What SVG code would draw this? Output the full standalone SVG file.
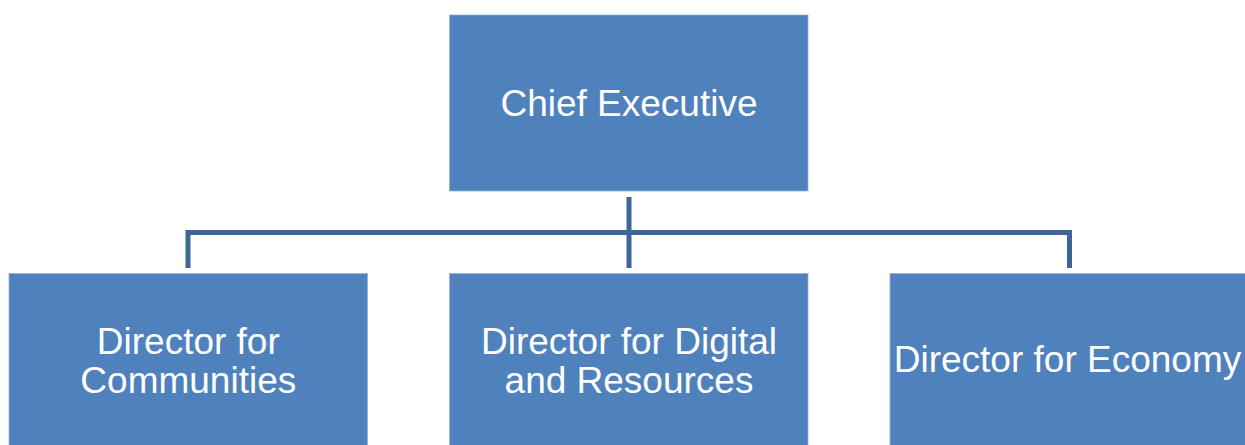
<svg xmlns="http://www.w3.org/2000/svg" width="1245" height="445" viewBox="0 0 1245 445">
  <style>
    .box { fill: #4f81bd; stroke: #94b2d8; stroke-width: 0.8; }
    .label { font-family: "Liberation Sans", Arial, sans-serif; font-size: 37px; fill: #ffffff; text-anchor: middle; }
    .conn { fill: none; stroke: #3d6696; stroke-width: 5; stroke-linejoin: miter; }
  </style>
  <rect width="1245" height="445" fill="#ffffff"/>

  <!-- connectors: trunk from the top box, bus, and drops to each director -->
  <g id="connectors">
    <path class="conn" d="M629 197 V268"/>
    <path class="conn" d="M188 268 V232.5 H1069.5 V268"/>
  </g>

  <g id="chief-executive">
    <rect class="box" x="449.5" y="15" width="358.5" height="176"/>
    <text class="label" x="629" y="115.5">Chief Executive</text>
  </g>

  <g id="director-communities">
    <rect class="box" x="9" y="273.5" width="358.5" height="176"/>
    <text class="label" x="188.3" y="354">Director for</text>
    <text class="label" x="188.3" y="392.7">Communities</text>
  </g>

  <g id="director-digital-resources">
    <rect class="box" x="449.5" y="273.5" width="358.5" height="176"/>
    <text class="label" x="629" y="354">Director for Digital</text>
    <text class="label" x="629" y="392.7">and Resources</text>
  </g>

  <g id="director-economy">
    <rect class="box" x="890" y="273.5" width="358.5" height="176"/>
    <text class="label" x="1067.5" y="371.7">Director for Economy</text>
  </g>
</svg>
